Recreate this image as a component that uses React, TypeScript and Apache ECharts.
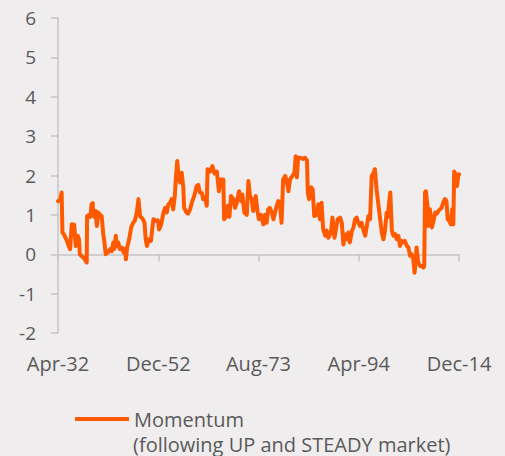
import React, { useEffect, useRef } from "react";
import * as echarts from "echarts";

// Month index since Apr-1932 (0 = Apr-32, 992 = Dec-14)
const months: number[] = [
  0, 5, 9, 11, 15, 17, 22, 25, 30, 34, 40, 44, 49, 52, 54, 59, 64, 71, 72, 77,
  80, 83, 86, 87, 90, 93, 96, 100, 104, 108, 112, 115, 118, 120, 124, 129, 133, 137, 139, 143,
  145, 149, 153, 158, 162, 166, 168, 171, 176, 181, 186, 190, 195, 199, 203, 210, 214, 217, 220, 225,
  230, 233, 236, 242, 247, 250, 255, 261, 265, 269, 273, 277, 281, 285, 289, 292, 295, 298, 302, 306,
  310, 312, 318, 322, 327, 331, 337, 343, 347, 351, 356, 359, 364, 368, 370, 376, 382, 387, 393, 398,
  403, 409, 411, 415, 420, 424, 428, 434, 438, 442, 448, 453, 456, 461, 467, 471, 475, 479, 483, 489,
  494, 497, 502, 508, 512, 516, 520, 524, 529, 533, 537, 541, 545, 549, 553, 557, 562, 566, 570, 574,
  580, 585, 588, 591, 594, 599, 606, 611, 616, 618, 621, 626, 630, 634, 640, 644, 648, 652, 656, 661,
  665, 669, 675, 679, 684, 687, 692, 698, 702, 706, 710, 714, 718, 722, 727, 731, 735, 739, 743, 747,
  751, 755, 760, 764, 768, 772, 776, 780, 784, 788, 792, 797, 801, 805, 809, 813, 816, 819, 822, 826,
  830, 834, 838, 842, 846, 850, 854, 858, 863, 867, 871, 875, 879, 882, 885, 887, 891, 896, 900, 904,
  906, 908, 910, 914, 916, 920, 925, 929, 933, 937, 941, 945, 949, 953, 957, 961, 964, 968, 972, 975,
  978, 980, 984, 987, 990, 992,
];

const momentum: number[] = [
  1.35, 1.37, 1.57, 0.55, 0.5, 0.45, 0.35, 0.25, 0.13, 0.76, 0.75, 0.21, 0.47, 0.37, 0.0, -0.05, -0.1, -0.21, 0.97, 1.0,
  0.95, 1.27, 1.3, 0.98, 0.95, 1.1, 0.72, 1.06, 1.0, 0.97, 0.51, 0.3, 0.0, 0.08, 0.05, 0.13, 0.08, 0.3, 0.13, 0.47,
  0.2, 0.3, 0.13, 0.17, 0.05, 0.13, -0.13, 0.17, 0.38, 0.68, 0.8, 0.85, 1.06, 1.4, 0.97, 0.89, 0.8, 0.38, 0.21, 0.38,
  0.34, 0.63, 0.89, 0.85, 0.86, 0.63, 0.75, 1.06, 1.18, 1.06, 1.27, 1.3, 1.4, 1.14, 1.48, 1.99, 2.37, 1.99, 1.82, 2.07,
  1.7, 1.18, 1.06, 1.03, 1.15, 1.31, 1.48, 1.73, 1.76, 1.57, 1.55, 1.4, 1.45, 1.23, 2.16, 2.1, 2.24, 2.05, 2.1, 1.6,
  1.9, 1.9, 0.89, 0.95, 1.23, 0.95, 1.48, 1.4, 1.18, 1.3, 1.6, 1.35, 1.52, 1.06, 1.0, 1.86, 1.48, 1.4, 1.1, 1.48,
  1.06, 0.89, 1.0, 0.76, 1.0, 0.8, 1.14, 1.18, 1.06, 0.89, 1.06, 1.23, 1.35, 1.3, 0.8, 1.9, 1.99, 1.85, 1.6, 1.9,
  1.99, 2.07, 2.49, 1.95, 2.45, 2.45, 2.42, 2.45, 2.38, 1.57, 1.4, 1.7, 1.65, 0.97, 1.0, 1.27, 0.89, 1.31, 0.63, 0.47,
  0.6, 0.42, 0.55, 0.93, 0.42, 0.6, 0.89, 0.93, 0.8, 0.25, 0.5, 0.38, 0.55, 0.3, 0.59, 0.68, 0.89, 0.93, 0.8, 0.72,
  0.8, 0.63, 0.47, 0.72, 0.97, 0.89, 1.99, 2.05, 2.16, 1.65, 1.31, 0.89, 0.55, 0.38, 0.6, 1.06, 0.95, 1.31, 1.57, 0.59,
  0.47, 0.51, 0.38, 0.47, 0.21, 0.34, 0.3, 0.34, 0.21, 0.17, -0.04, 0.0, -0.13, -0.47, -0.13, 0.17, -0.21, -0.3, -0.3, -0.34,
  -0.3, 1.57, 1.6, 1.23, 0.72, 1.14, 0.68, 0.85, 1.06, 1.03, 1.1, 1.14, 1.18, 1.31, 1.4, 1.35, 0.89, 0.85, 0.76, 1.14,
  0.76, 2.1, 2.03, 1.73, 1.99, 2.03,
];

const xTickLabels: string[] = ["Apr-32", "Dec-52", "Aug-73", "Apr-94", "Dec-14"];
const xTickStep = 248;

const seriesName = "Momentum";
const legendSubtitle = "(following UP and STEADY market)";

const FONT = "'Open Sans', sans-serif";
const TEXT = "#5a5a5a";
const AXIS = "#c6c4c5";
const ORANGE = "#ff5a00";

export default function App() {
  const ref = useRef<HTMLDivElement>(null);

  useEffect(() => {
    if (!ref.current) return;
    const chart = echarts.init(ref.current, undefined, { renderer: "svg" });
    const data = months.map((m, i) => [m, momentum[i]]);
    const maxX = xTickStep * (xTickLabels.length - 1);
    chart.setOption({
      animation: false,
      backgroundColor: "#efedee",
      textStyle: { fontFamily: FONT },
      grid: { left: 58, right: 46, top: 18, bottom: 123, containLabel: false },
      legend: {
        data: [seriesName],
        left: 75,
        top: 408,
        icon: "rect",
        itemWidth: 54,
        itemHeight: 4,
        padding: 0,
        textStyle: { fontSize: 20, lineHeight: 22, color: TEXT, fontFamily: FONT },
      },
      graphic: [
        {
          type: "text",
          left: 133,
          top: 433,
          style: {
            text: legendSubtitle,
            fontSize: 20,
            lineHeight: 22,
            fill: TEXT,
            fontFamily: FONT,
          },
        },
      ],
      xAxis: [
        {
          type: "value",
          min: 0,
          max: maxX,
          interval: xTickStep,
          axisLine: { show: true, onZero: true, lineStyle: { color: AXIS, width: 1.5 } },
          axisTick: { show: true, length: 7, lineStyle: { color: AXIS, width: 1.5 } },
          axisLabel: { show: false },
          splitLine: { show: false },
        },
        {
          type: "value",
          position: "bottom",
          min: 0,
          max: maxX,
          interval: xTickStep,
          axisLine: { show: false, onZero: false },
          axisTick: { show: false },
          splitLine: { show: false },
          axisLabel: {
            show: true,
            margin: 20,
            fontSize: 20,
            color: TEXT,
            fontFamily: FONT,
            formatter: (v: number) => xTickLabels[Math.round(v / xTickStep)] ?? "",
          },
        },
      ],
      yAxis: {
        type: "value",
        min: -2,
        max: 6,
        interval: 1,
        axisLine: { show: true, lineStyle: { color: AXIS, width: 1.5 } },
        axisTick: { show: true, length: 7, lineStyle: { color: AXIS, width: 1.5 } },
        splitLine: { show: false },
        axisLabel: { margin: 22, fontSize: 19, color: TEXT, fontFamily: FONT },
      },
      series: [
        {
          name: seriesName,
          type: "line",
          xAxisIndex: 0,
          data,
          showSymbol: false,
          symbol: "none",
          lineStyle: { color: ORANGE, width: 4, join: "round", cap: "round" },
          itemStyle: { color: ORANGE },
        },
      ],
    });
    return () => chart.dispose();
  }, []);

  return (
    <div
      ref={ref}
      style={{ position: "fixed", left: 0, top: 0, width: 505, height: 456 }}
    />
  );
}
